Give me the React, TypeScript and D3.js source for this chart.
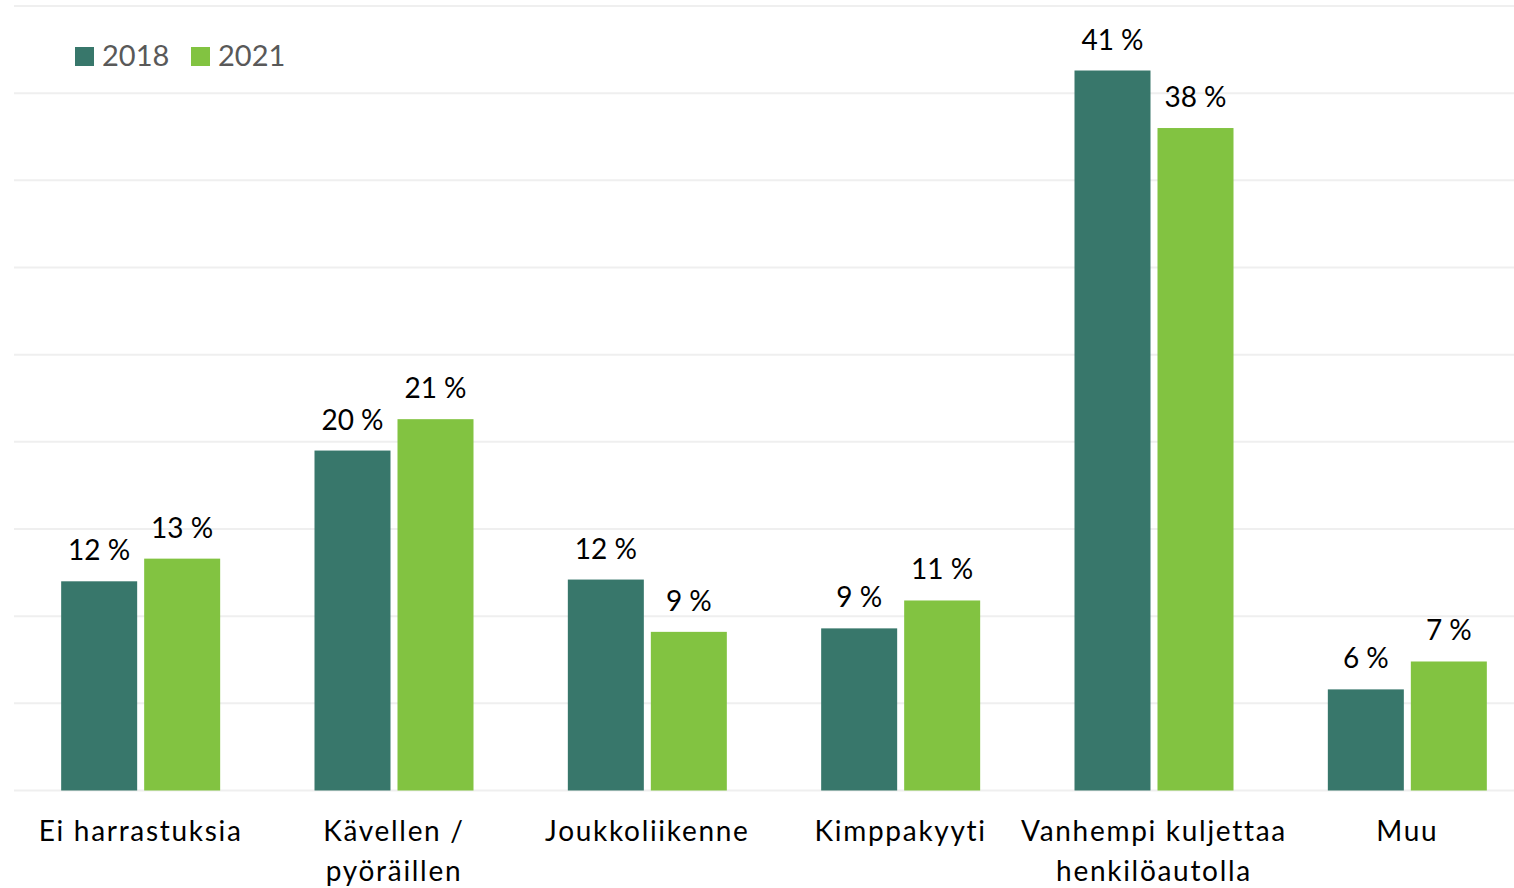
import React from "react";
import * as d3 from "d3";

const categories: string[][] = [
  ["Ei harrastuksia"],
  ["Kävellen /", "pyöräillen"],
  ["Joukkoliikenne"],
  ["Kimppakyyti"],
  ["Vanhempi kuljettaa", "henkilöautolla"],
  ["Muu"],
];
const series = ["2018", "2021"];
const values2018 = [12.0, 19.5, 12.1, 9.3, 41.3, 5.8];
const values2021 = [13.3, 21.3, 9.1, 10.9, 38.0, 7.4];
const gridTicks = [0, 5, 10, 15, 20, 25, 30, 35, 40, 45];
const colors = ["#38776B", "#82C341"];

const W = 1514;
const H = 888;
const FONT = "Lato, 'Open Sans', sans-serif";

export default function App() {
  const x0 = d3
    .scaleBand<number>()
    .domain(categories.map((_, i) => i))
    .range([14, 1534])
    .paddingInner(0)
    .paddingOuter(0);
  const barW = 76;
  const gap = 7;
  const y = d3.scaleLinear().domain([0, 45]).range([790.5, 6]);
  const allVals = [values2018, values2021];

  return (
    <svg
      width={W}
      height={H}
      style={{ position: "absolute", left: 0, top: 0, background: "#fff" }}
      fontFamily={FONT}
    >
      {gridTicks.map((t) => (
        <line
          key={t}
          x1={14}
          x2={W}
          y1={y(t)}
          y2={y(t)}
          stroke="#efefef"
          strokeWidth={2}
        />
      ))}
      {categories.map((cat, i) => {
        const cx = x0(i)! + x0.bandwidth() / 2;
        return (
          <g key={i}>
            {allVals.map((vals, s) => {
              const bx = cx - gap / 2 - barW + s * (barW + gap);
              const v = vals[i];
              return (
                <g key={s}>
                  <rect
                    x={bx}
                    y={y(v)}
                    width={barW}
                    height={y(0) - y(v)}
                    fill={colors[s]}
                  />
                  <text
                    x={bx + barW / 2}
                    y={y(v) - 21}
                    textAnchor="middle"
                    fontSize={28}
                    fill="#000"
                  >
                    {Math.round(v) + " %"}
                  </text>
                </g>
              );
            })}
            {cat.map((line, li) => (
              <text
                key={li}
                x={cx}
                y={841 + li * 40}
                textAnchor="middle"
                fontSize={28}
                letterSpacing={1.7}
                fill="#000"
              >
                {line}
              </text>
            ))}
          </g>
        );
      })}
      {series.map((s, i) => {
        const lx = 75 + i * 116;
        return (
          <g key={s}>
            <rect x={lx} y={47} width={19} height={19} fill={colors[i]} />
            <text x={lx + 27} y={66} fontSize={29} fill="#595959">
              {s}
            </text>
          </g>
        );
      })}
    </svg>
  );
}
